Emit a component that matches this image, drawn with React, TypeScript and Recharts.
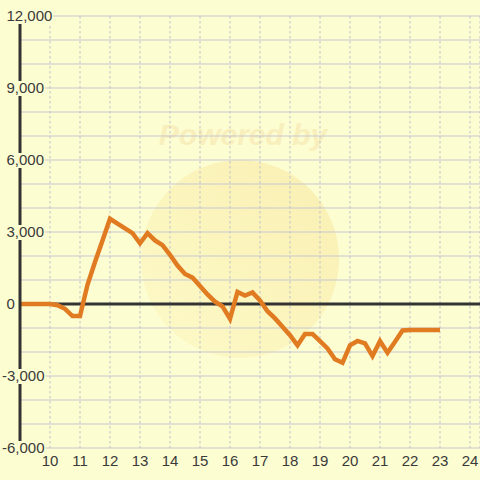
import React from "react";
import { LineChart, Line, XAxis, YAxis, CartesianGrid, ReferenceLine } from "recharts";

const hours = [9, 10, 10.25, 10.5, 10.75, 11, 11.25, 11.5, 11.75, 12, 12.25, 12.5, 12.75, 13, 13.25, 13.5, 13.75, 14, 14.25, 14.5, 14.75, 15, 15.25, 15.5, 15.75, 16, 16.25, 16.5, 16.75, 17, 17.25, 17.5, 17.75, 18, 18.25, 18.5, 18.75, 19, 19.25, 19.5, 19.75, 20, 20.25, 20.5, 20.75, 21, 21.25, 21.5, 21.75, 22, 22.5, 23];
const values = [0, 0, -50, -200, -500, -500, 800, 1750, 2650, 3550, 3350, 3150, 2950, 2530, 2950, 2650, 2450, 2050, 1600, 1250, 1100, 750, 400, 100, -100, -620, 500, 350, 480, 150, -300, -600, -950, -1300, -1720, -1250, -1250, -1550, -1850, -2300, -2450, -1720, -1540, -1640, -2170, -1540, -2030, -1570, -1100, -1085, -1085, -1085];
const xTicks = [10, 11, 12, 13, 14, 15, 16, 17, 18, 19, 20, 21, 22, 23, 24];
const yTicks = [-6000, -5000, -4000, -3000, -2000, -1000, 0, 1000, 2000, 3000, 4000, 5000, 6000, 7000, 8000, 9000, 10000, 11000, 12000];

const data = hours.map((h, i) => ({ h, v: values[i] }));

const BG = "#FDFDD2";
const TEXT = "#3A3A3A";
const FS = 15;

const fmt = (v: number) => v.toLocaleString("en-US");

const YTick = (props: any) => {
  const { y, payload } = props;
  const v = payload.value as number;
  if (v % 3000 !== 0) return <g />;
  const s = fmt(v);
  let w = 0;
  for (const c of s) w += c === "," ? 0.278 * FS : c === "-" ? 0.333 * FS : 0.556 * FS;
  const x = v < 0 ? 2 : 6.5;
  return (
    <g>
      <rect x={x - 1} y={y - 7} width={w + 2} height={15} fill={BG} />
      <text x={x} y={y} dy="0.36em" textAnchor="start" fontSize={FS} fill={TEXT} fontFamily="Liberation Sans, Arial, sans-serif">
        {s}
      </text>
    </g>
  );
};

const XTick = (props: any) => {
  const { x, payload } = props;
  return (
    <text x={x} y={461} dy="0.36em" textAnchor="middle" fontSize={FS} fill={TEXT} fontFamily="Liberation Sans, Arial, sans-serif">
      {payload.value}
    </text>
  );
};

export default function App() {
  return (
    <div style={{ position: "absolute", left: 0, top: 0, width: 480, height: 480, background: BG, overflow: "hidden" }}>
      <svg width={480} height={480} style={{ position: "absolute", left: 0, top: 0 }}>
        <defs>
          <linearGradient id="wm" x1="0" y1="1" x2="1" y2="0">
            <stop offset="0" stopColor="#FDFAC8" />
            <stop offset="1" stopColor="#F9EFB2" />
          </linearGradient>
        </defs>
        <circle cx={240} cy={259} r={99} fill="url(#wm)" />
        <text x={243} y={145} textAnchor="middle" fontSize={30} fontWeight="bold" fontStyle="italic" fill="#F8EFBC" fontFamily="Liberation Sans, Arial, sans-serif">
          Powered by
        </text>
      </svg>
      <div style={{ position: "absolute", left: 0, top: 0 }}>
        <LineChart width={480} height={480} data={data} margin={{ top: 16, right: 0, left: 0, bottom: 0 }}>
          <CartesianGrid horizontal={true} vertical={false} stroke="#C8C8D2" strokeWidth={1.2} />
          <CartesianGrid horizontal={false} vertical={true} stroke="#C0C0CA" strokeDasharray="2.5 2.5" />
          <XAxis
            dataKey="h"
            type="number"
            domain={[9, 24.3333]}
            ticks={xTicks}
            allowDataOverflow
            height={32}
            axisLine={false}
            tickLine={false}
            tick={XTick}
            interval={0}
          />
          <YAxis
            type="number"
            domain={[-6000, 12000]}
            ticks={yTicks}
            width={20}
            axisLine={{ stroke: "#333333", strokeWidth: 3 }}
            tickLine={false}
            tick={YTick}
            interval={0}
          />
          <ReferenceLine y={0} stroke="#333333" strokeWidth={3} />
          <Line
            type="linear"
            dataKey="v"
            stroke="#E07B22"
            strokeWidth={4.5}
            dot={false}
            isAnimationActive={false}
            strokeLinejoin="miter"
          />
        </LineChart>
      </div>
    </div>
  );
}
